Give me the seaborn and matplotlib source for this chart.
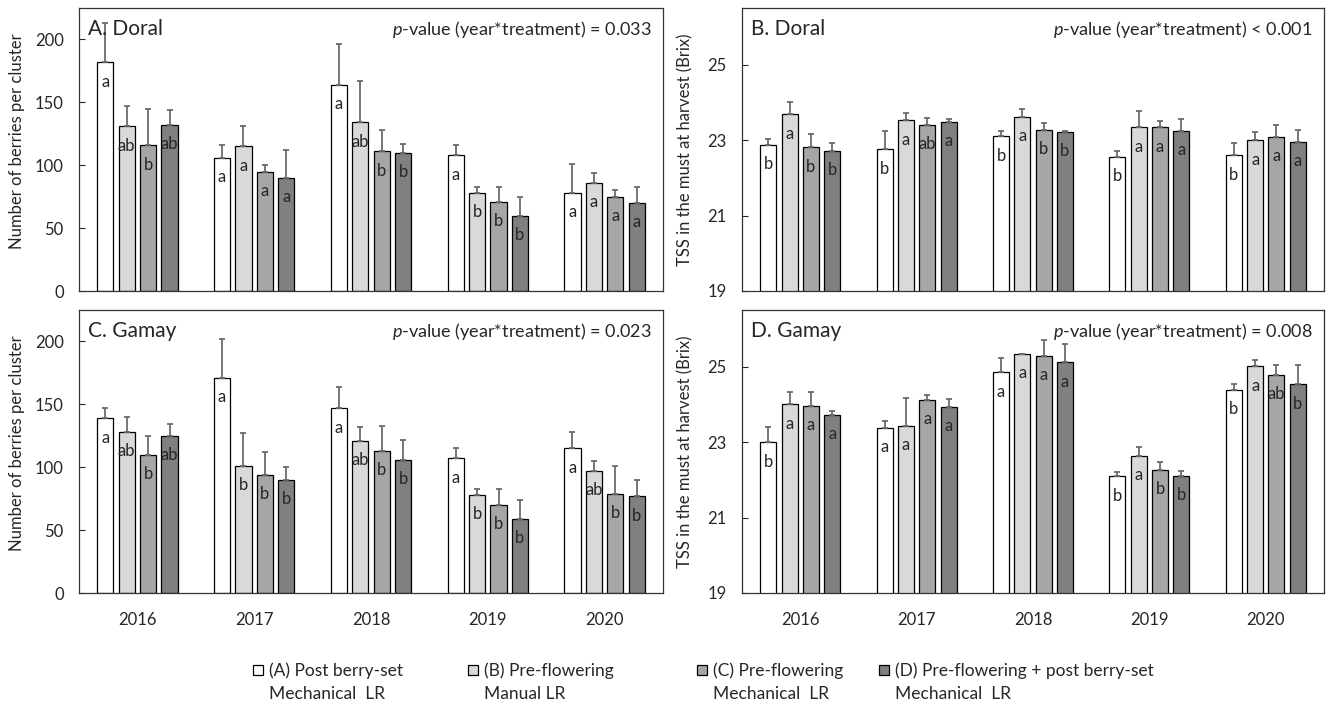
import matplotlib
matplotlib.use("Agg")
import matplotlib.pyplot as plt
import seaborn as sns
import pandas as pd
from matplotlib.patches import Patch

years = ["2016", "2017", "2018", "2019", "2020"]
treatments = ["A", "B", "C", "D"]
legend_line1 = ["(A) Post berry-set", "(B) Pre-flowering",
                "(C) Pre-flowering", "(D) Pre-flowering + post berry-set"]
legend_line2 = ["Mechanical  LR", "Manual LR", "Mechanical  LR", "Mechanical  LR"]
colors = ["#ffffff", "#d9d9d9", "#a6a6a6", "#808080"]

# values per treatment (rows) and year (columns)
berries_doral = [
    [182, 106, 164, 108, 78],
    [131, 115, 134, 78, 86],
    [116, 95, 111, 71, 75],
    [132, 90, 110, 60, 70],
]
berries_doral_err = [
    [31, 10, 32, 8, 23],
    [16, 16, 33, 5, 8],
    [29, 5, 17, 12, 5],
    [12, 22, 7, 15, 13],
]
berries_doral_letters = [
    ["a", "a", "a", "a", "a"],
    ["ab", "a", "ab", "b", "a"],
    ["b", "a", "b", "b", "a"],
    ["ab", "a", "b", "b", "a"],
]

tss_doral = [
    [22.88, 22.76, 23.10, 22.56, 22.60],
    [23.68, 23.52, 23.62, 23.34, 22.99],
    [22.81, 23.40, 23.28, 23.34, 23.09],
    [22.71, 23.49, 23.22, 23.24, 22.96],
]
tss_doral_err = [
    [0.16, 0.48, 0.14, 0.15, 0.31],
    [0.32, 0.20, 0.20, 0.42, 0.23],
    [0.35, 0.18, 0.16, 0.16, 0.31],
    [0.20, 0.07, 0.03, 0.31, 0.32],
]
tss_doral_letters = [
    ["b", "b", "b", "b", "b"],
    ["a", "a", "a", "a", "a"],
    ["b", "ab", "b", "a", "a"],
    ["b", "a", "b", "a", "a"],
]

berries_gamay = [
    [139, 171, 147, 107, 115],
    [128, 101, 121, 78, 97],
    [110, 94, 113, 70, 79],
    [125, 90, 106, 59, 77],
]
berries_gamay_err = [
    [8, 31, 17, 8, 13],
    [12, 26, 11, 5, 8],
    [15, 18, 20, 13, 22],
    [9, 10, 16, 15, 13],
]
berries_gamay_letters = [
    ["a", "a", "a", "a", "a"],
    ["ab", "b", "ab", "b", "ab"],
    ["b", "b", "b", "b", "b"],
    ["ab", "b", "b", "b", "b"],
]

tss_gamay = [
    [23.00, 23.38, 24.85, 22.09, 24.39],
    [24.00, 23.43, 25.34, 22.63, 25.01],
    [23.96, 24.12, 25.29, 22.27, 24.78],
    [23.73, 23.93, 25.12, 22.11, 24.53],
]
tss_gamay_err = [
    [0.40, 0.18, 0.37, 0.11, 0.16],
    [0.33, 0.75, 0.0, 0.24, 0.16],
    [0.37, 0.13, 0.42, 0.21, 0.26],
    [0.09, 0.20, 0.47, 0.13, 0.50],
]
tss_gamay_letters = [
    ["b", "a", "a", "b", "b"],
    ["a", "a", "a", "a", "a"],
    ["a", "a", "a", "b", "ab"],
    ["a", "a", "a", "b", "b"],
]

sns.set_style("ticks")
plt.rcParams["font.family"] = ["Lato", "DejaVu Sans"]
plt.rcParams["mathtext.fontset"] = "custom"
plt.rcParams["mathtext.it"] = "Lato:italic"
plt.rcParams["mathtext.rm"] = "Lato"


def to_frame(values):
    rows = []
    for t, vals in zip(treatments, values):
        for y, v in zip(years, vals):
            rows.append({"year": y, "treatment": t, "value": v})
    return pd.DataFrame(rows)


def draw_panel(ax, values, errs, letters, title, pval, ylim, yticks, ylabel, show_x):
    df = to_frame(values)
    sns.barplot(data=df, x="year", y="value", hue="treatment", order=years,
                hue_order=treatments, palette=colors, edgecolor="black",
                linewidth=0.9, errorbar=None, width=0.733, gap=0.25,
                legend=False, ax=ax)
    bar_groups = list(ax.containers)
    for i, cont in enumerate(bar_groups):
        for j, bar in enumerate(cont):
            x = bar.get_x() + bar.get_width() / 2
            h = bar.get_height()
            ax.errorbar(x, h, yerr=[[0], [errs[i][j]]], fmt="none",
                        ecolor="#6b6b6b", elinewidth=1.3, capsize=2.4,
                        capthick=1.3, zorder=1)
            ax.annotate(letters[i][j], (x, h), xytext=(0, -14),
                        textcoords="offset points", ha="center", va="center",
                        fontsize=12)
    ax.set_ylim(*ylim)
    ax.set_xlim(-0.5, 4.5)
    ax.set_yticks(yticks)
    ax.set_xlabel("")
    ax.set_ylabel(ylabel, fontsize=12)
    ax.tick_params(axis="y", direction="in", length=4, width=0.8,
                   labelsize=12, pad=11)
    ax.tick_params(axis="x", length=0, labelsize=12, pad=14)
    if not show_x:
        ax.set_xticklabels([])
    for s in ax.spines.values():
        s.set_visible(True)
        s.set_linewidth(0.9)
        s.set_color("#333333")
    ax.text(0.016, 0.925, title, transform=ax.transAxes, fontsize=15,
            ha="left", va="center")
    ax.text(0.98, 0.925, pval, transform=ax.transAxes, fontsize=13,
            ha="right", va="center")


W, H = 1331, 704
fig = plt.figure(figsize=(W / 100, H / 100), dpi=100)


def add_axes(left, top, right, bottom):
    return fig.add_axes([left / W, 1 - bottom / H, (right - left) / W, (bottom - top) / H])


axA = add_axes(79, 8, 663, 291)
axB = add_axes(742, 8, 1324, 291)
axC = add_axes(79, 310, 663, 593)
axD = add_axes(742, 310, 1324, 593)

draw_panel(axA, berries_doral, berries_doral_err, berries_doral_letters, "A. Doral",
           "$p$-value (year*treatment) = 0.033", (0, 225), [0, 50, 100, 150, 200],
           "Number of berries per cluster", False)
draw_panel(axB, tss_doral, tss_doral_err, tss_doral_letters, "B. Doral",
           "$p$-value (year*treatment) < 0.001", (19, 26.5), [19, 21, 23, 25],
           "TSS in the must at harvest (Brix)", False)
draw_panel(axC, berries_gamay, berries_gamay_err, berries_gamay_letters, "C. Gamay",
           "$p$-value (year*treatment) = 0.023", (0, 225), [0, 50, 100, 150, 200],
           "Number of berries per cluster", True)
draw_panel(axD, tss_gamay, tss_gamay_err, tss_gamay_letters, "D. Gamay",
           "$p$-value (year*treatment) = 0.008", (19, 26.5), [19, 21, 23, 25],
           "TSS in the must at harvest (Brix)", True)

for ax in (axA, axC):
    ax.yaxis.set_label_coords(-0.092, 0.53)
for ax in (axB, axD):
    ax.yaxis.set_label_coords(-0.084, 0.5)

# legend: one small entry per treatment, second line of the label below it
legend_x = [253, 468, 697, 879]
legends = []
for lx, lab, col in zip(legend_x, legend_line1, colors):
    h = Patch(facecolor=col, edgecolor="black", linewidth=0.9)
    leg = fig.legend(handles=[h], labels=[lab], loc="center left",
                     bbox_to_anchor=(lx / W, 1 - 671 / H), frameon=False,
                     fontsize=12.5, handlelength=0.55, handleheight=0.55,
                     handletextpad=0.4, borderpad=0, borderaxespad=0)
    legends.append(leg)

fig.canvas.draw()
renderer = fig.canvas.get_renderer()
for leg, lab2 in zip(legends, legend_line2):
    bb = leg.get_texts()[0].get_window_extent(renderer)
    fig.text(bb.x0 / W, 1 - 694 / H, lab2, fontsize=12.5, ha="left", va="center")

fig.savefig("out.png", dpi=100)
